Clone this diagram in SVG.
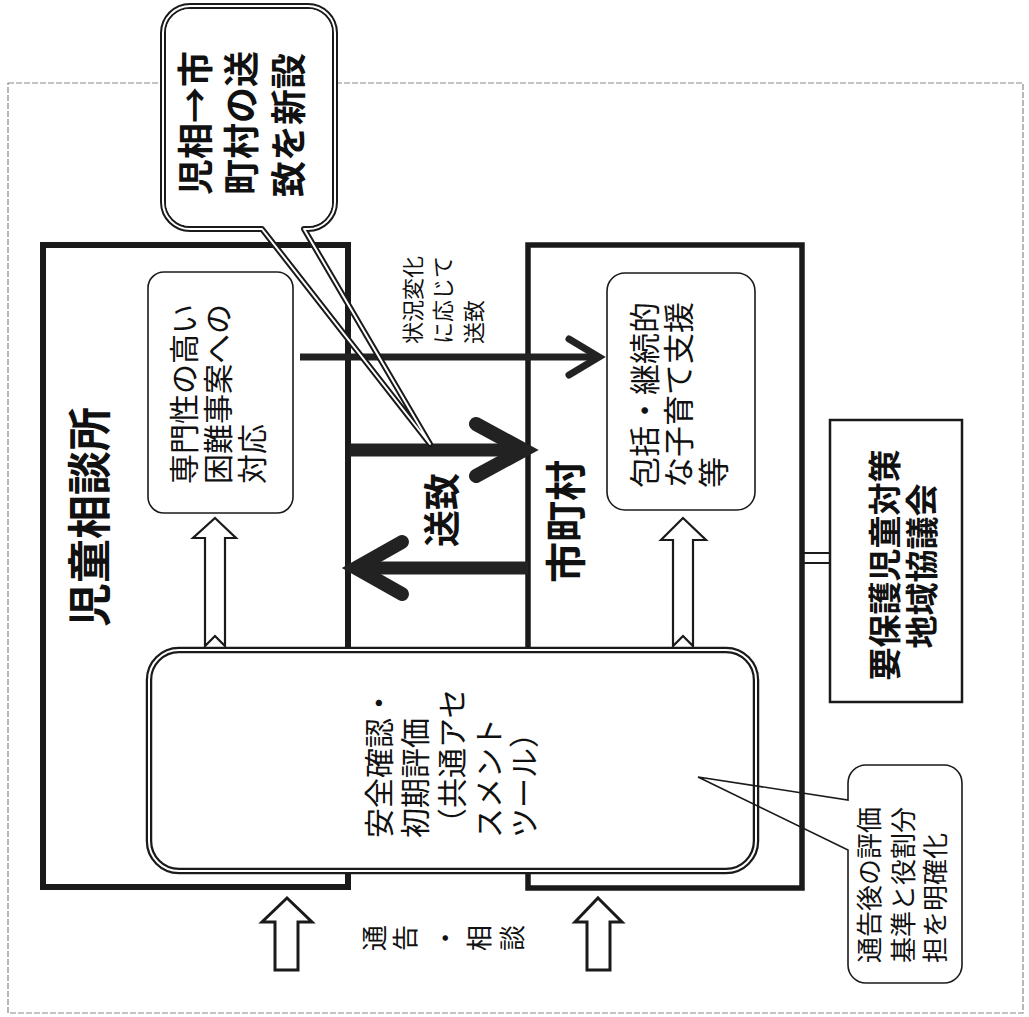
<svg xmlns="http://www.w3.org/2000/svg" width="1029" height="1017" viewBox="0 0 1029 1017">
<style>
.t{font-family:"Noto Sans CJK JP","Noto Sans CJK SC",sans-serif;fill:#111;dominant-baseline:central}
.b{font-weight:bold}
.frame{fill:none;stroke:#1a1a1a;stroke-width:6}
.thin{fill:#fff;stroke:#1a1a1a;stroke-width:1.6}
.hollow{fill:#fff;stroke:#1a1a1a;stroke-width:2.2;stroke-linejoin:miter}
.arrow{fill:none;stroke:#222;stroke-linecap:round;stroke-linejoin:miter}
</style>
<rect width="1029" height="1017" fill="#fff"/>
<rect x="8" y="83" width="1015" height="930" fill="none" stroke="#888" stroke-width="1.2" stroke-dasharray="6 2"/>

<g id="jisou">
<rect class="frame" x="43" y="245" width="305" height="642"/>
<text class="t b" font-size="44" transform="translate(87,627) rotate(-90)">児童相談所</text>
</g>

<g id="shichoson">
<rect class="frame" x="528" y="245" width="274" height="643" style="stroke-width:5.5"/>
<text class="t b" font-size="41" transform="translate(563,583) rotate(-90)">市町村</text>
</g>

<g id="senmon">
<rect class="thin" x="148" y="272" width="145" height="241" rx="16"/>
<text class="t" font-size="30" transform="translate(182,484) rotate(-90)">専門性の高い</text>
<text class="t" font-size="30" transform="translate(216,484) rotate(-90)">困難事案への</text>
<text class="t" font-size="30" transform="translate(250,484) rotate(-90)">対応</text>
</g>

<g id="hokatsu">
<rect class="thin" x="607" y="273" width="148" height="237" rx="18"/>
<text class="t" font-size="31" transform="translate(642,488) rotate(-90)">包括・継続的</text>
<text class="t" font-size="31" transform="translate(676,488) rotate(-90)">な子育て支援</text>
<text class="t" font-size="31" transform="translate(711,488) rotate(-90)">等</text>
</g>

<g id="yohogo">
<rect x="830" y="420" width="132" height="282" fill="#fff" stroke="#1a1a1a" stroke-width="2.5"/>
<text class="t b" font-size="33" text-anchor="middle" transform="translate(883,565) rotate(-90)">要保護児童対策</text>
<text class="t b" font-size="33" text-anchor="middle" transform="translate(920,566) rotate(-90)">地域協議会</text>
</g>

<g id="anzen">
<rect x="149" y="650" width="607" height="221" rx="30" fill="#fff" stroke="#1a1a1a" stroke-width="6.5"/>
<rect x="149" y="650" width="607" height="221" rx="30" fill="none" stroke="#fff" stroke-width="2"/>
<text class="t" font-size="30" transform="translate(377,838) rotate(-90)">安全確認・</text>
<text class="t" font-size="30" transform="translate(413,838) rotate(-90)">初期評価</text>
<text class="t" font-size="30" transform="translate(450,838) rotate(-90)">（共通アセ</text>
<text class="t" font-size="30" transform="translate(487,838) rotate(-90)">スメント</text>
<text class="t" font-size="30" transform="translate(522,838) rotate(-90)">ツール）</text>
</g>

<g id="connectors">
<line class="arrow" x1="300" y1="357" x2="598" y2="357" stroke-width="7" style="stroke-linecap:butt"/>
<polyline class="arrow" points="569,339 599,357 569,375" stroke-width="7"/>
<line class="arrow" x1="350" y1="450" x2="520" y2="450" stroke-width="13" style="stroke-linecap:butt"/>
<polyline class="arrow" points="476,424 524,450 476,476" stroke-width="14"/>
<line class="arrow" x1="360" y1="568" x2="528" y2="568" stroke-width="13" style="stroke-linecap:butt"/>
<polyline class="arrow" points="402,542 356,568 402,594" stroke-width="14"/>
<polygon class="hollow" points="215,518 236,538 225,538 225,646 215,636 205,646 205,538 193,538"/>
<polygon class="hollow" points="683,518 706,540 693,540 693,646 683,636 673,646 673,540 661,540"/>
<polygon class="hollow" points="287,898 312,922 298,922 298,970 275,970 275,922 262,922" style="stroke-width:3"/>
<polygon class="hollow" points="598,898 622,922 610,922 610,970 587,970 587,922 575,922" style="stroke-width:3"/>
<line x1="802" y1="553" x2="830" y2="553" stroke="#1a1a1a" stroke-width="2"/>
<line x1="802" y1="563" x2="830" y2="563" stroke="#1a1a1a" stroke-width="2"/>
</g>

<g id="label-sochi">
<text class="t b" font-size="37" transform="translate(440,547) rotate(-90)">送致</text>
</g>

<g id="label-jokyo">
<text class="t" font-size="22" transform="translate(411,344) rotate(-90)">状況変化</text>
<text class="t" font-size="22" transform="translate(441,344) rotate(-90)">に応じて</text>
<text class="t" font-size="22" transform="translate(472,344) rotate(-90)">送致</text>
</g>

<g id="label-tsukoku">
<text class="t" font-size="26" text-anchor="middle" transform="translate(372,938) rotate(-90)">通</text>
<text class="t" font-size="26" text-anchor="middle" transform="translate(403,938) rotate(-90)">告</text>
<text class="t" font-size="26" text-anchor="middle" transform="translate(443,938) rotate(-90)">・</text>
<text class="t" font-size="26" text-anchor="middle" transform="translate(477,938) rotate(-90)">相</text>
<text class="t" font-size="26" text-anchor="middle" transform="translate(510,938) rotate(-90)">談</text>
</g>

<g id="callout-shinsetsu">
<path d="M190,6 H308 A27,27 0 0 1 335,33 V202 A27,27 0 0 1 308,229 H304 L430,444 L262,229 H190 A27,27 0 0 1 163,202 V33 A27,27 0 0 1 190,6 Z" fill="none" stroke="#1a1a1a" stroke-width="6" stroke-linejoin="round"/>
<path d="M190,6 H308 A27,27 0 0 1 335,33 V202 A27,27 0 0 1 308,229 H304 L430,444 L262,229 H190 A27,27 0 0 1 163,202 V33 A27,27 0 0 1 190,6 Z" fill="none" stroke="#fff" stroke-width="2" stroke-linejoin="round"/>
<path d="M192,9 H306 A24,24 0 0 1 332,33 V202 A24,24 0 0 1 306,226 H260 H190 A24,24 0 0 1 166,202 V33 A24,24 0 0 1 192,9 Z" fill="#fff" stroke="none"/>
<text class="t b" font-size="36" transform="translate(193,195) rotate(-90)">児相→市</text>
<text class="t b" font-size="36" transform="translate(239,195) rotate(-90)">町村の送</text>
<text class="t b" font-size="36" transform="translate(286,197) rotate(-90)">致を新設</text>
</g>

<g id="callout-tsukokugo">
<path d="M866,765 H944 A18,18 0 0 1 962,783 V965 A18,18 0 0 1 944,983 H866 A18,18 0 0 1 848,965 V850 L698,777 L848,800 V783 A18,18 0 0 1 866,765 Z" fill="none" stroke="#1a1a1a" stroke-width="1.6"/>
<text class="t" font-size="26" transform="translate(867,963) rotate(-90)">通告後の評価</text>
<text class="t" font-size="26" transform="translate(901,963) rotate(-90)">基準と役割分</text>
<text class="t" font-size="26" transform="translate(933,963) rotate(-90)">担を明確化</text>
</g>
</svg>
